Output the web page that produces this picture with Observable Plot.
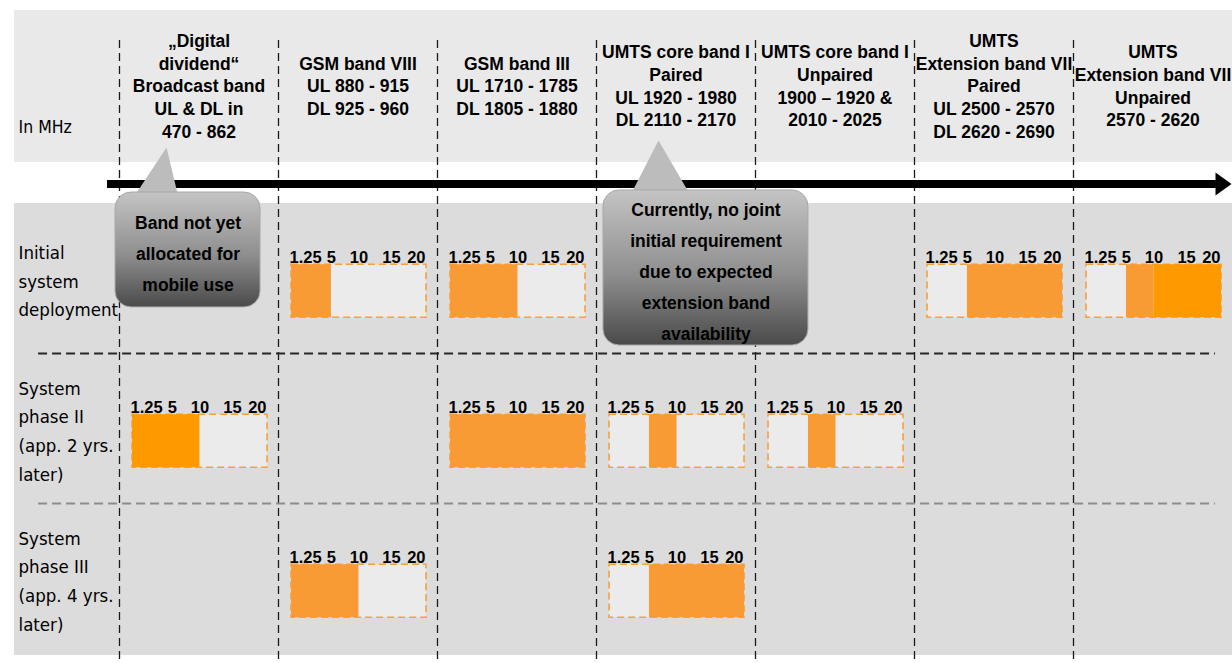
<!DOCTYPE html>
<html><head><meta charset="utf-8">
<script src="https://cdn.jsdelivr.net/npm/d3@7"></script>
<script src="https://cdn.jsdelivr.net/npm/@observablehq/plot@0.6"></script>
<style>
body{margin:0;background:#fff;}
#chart svg{display:block;}
</style></head><body><div id="chart"></div>
<script>
// ---------- data ----------
const bands = ["Digital dividend","GSM band VIII","GSM band III","UMTS core band I paired","UMTS core band I unpaired","UMTS extension band VII paired","UMTS extension band VII unpaired"];
const bandHeaders = [
  "„Digital\ndividend“\nBroadcast band\nUL & DL in\n470 - 862",
  "GSM band VIII\nUL 880 - 915\nDL 925 - 960",
  "GSM band III\nUL 1710 - 1785\nDL 1805 - 1880",
  "UMTS core band I\nPaired\nUL 1920 - 1980\nDL 2110 - 2170",
  "UMTS core band I\nUnpaired\n1900 – 1920 &\n2010 - 2025",
  "UMTS\nExtension band VII\nPaired\nUL 2500 - 2570\nDL 2620 - 2690",
  "UMTS\nExtension band VII\nUnpaired\n2570 - 2620"
];
const phases = ["Initial\nsystem\ndeployment", "System\nphase II\n(app. 2 yrs.\nlater)", "System\nphase III\n(app. 4 yrs.\nlater)"];
const unitLabel = "In MHz";
const carrierTicks = [1.25, 5, 10, 15, 20]; // MHz
// carrier bars (band index, phase index)
const barBand  = [1, 2, 5, 6, 0, 2, 3, 4, 1, 3];
const barPhase = [0, 0, 0, 0, 1, 1, 1, 1, 2, 2];
// occupied spectrum segments in MHz
const segBand  = [1, 2, 5, 6, 6, 0, 2, 3, 4, 1, 3];
const segPhase = [0, 0, 0, 0, 0, 1, 1, 1, 1, 2, 2];
const segFrom  = [0, 0, 5, 5, 10, 0, 0, 5, 5, 0, 5];
const segTo    = [5, 10, 20, 10, 20, 10, 20, 10, 10, 10, 20];
const segTone  = ["mid","mid","mid","mid","deep","deep","mid","mid","mid","mid","mid"];
// callouts
const calloutBand = [0, 3];
const calloutText = ["Band not yet\nallocated for\nmobile use",
  "Currently, no joint\ninitial requirement\ndue to expected\nextension band\navailability"];

// ---------- layout (grid units: 1 column, 1 phase row) ----------
const L = {
  left: -0.66, right: 7,
  headerTop: -1.2867, headerBottom: -0.2733, headerMid: -0.79,
  bodyBottom: 3.0133,
  gridTop: -1.087, gridBottom: 3.07,
  sepLeft: -0.509, sepRight: 6.893,
  arrowY: -0.13, arrowStart: -0.0755, headBase: 6.893, headTip: 6.994, headHalf: 0.077,
  barTop: 0.408, barBottom: 0.762, tickBase: 0.395,
  labelX: -0.635, unitY: -0.5067
};
const calloutBox = [
  {dx1: -0.025, dx2: 0.887, y1: -0.073, y2: 0.693, apex: 0.296, apexY: -0.373, b1: 0.09, b2: 0.37},
  {dx1: 0.044, dx2: 1.333, y1: -0.087, y2: 0.947, apex: 0.39, apexY: -0.42, b1: 0.214, b2: 0.59}
];
// position of a frequency inside a column (as drawn on the carrier bar)
const cs = Plot.scale({x: {type: "linear", domain: [0, 1.25, 5, 10, 15, 20], range: [0.082, 0.17, 0.333, 0.506, 0.711, 0.931]}});
const pos = (band, mhz) => band + cs.apply(mhz);

// ---------- tables ----------
const bars = barBand.map((b, i) => ({band: b, phase: barPhase[i]}));
const segs = segBand.map((b, i) => ({band: b, phase: segPhase[i], from: segFrom[i], to: segTo[i], tone: segTone[i]}));
const ticks = bars.flatMap(b => carrierTicks.map(t => ({...b, t})));
const lastTick = carrierTicks[carrierTicks.length - 1];
const callouts = calloutBand.map((b, i) => ({band: b, text: calloutText[i], ...calloutBox[i]}));
const pointers = callouts.flatMap((c, i) => [
  {id: i, x: c.band + c.b1, y: c.y1 + 0.03},
  {id: i, x: c.band + c.apex, y: c.apexY},
  {id: i, x: c.band + c.b2, y: c.y1 + 0.03}
]);
const head = [
  {x: L.headBase, y: L.arrowY - L.headHalf},
  {x: L.headTip, y: L.arrowY},
  {x: L.headBase, y: L.arrowY + L.headHalf}
];

const bold = "Liberation Sans, Arial, sans-serif";
const cond = "DejaVu Sans Condensed, Liberation Sans Narrow, sans-serif";

const chart = Plot.plot({
  width: 1232, height: 663,
  margin: 0,
  x: {type: "linear", domain: [-0.6855, 7], range: [10, 1232], axis: null},
  y: {type: "linear", domain: [-1.3533, 3.0667], range: [0, 663], axis: null},
  color: {domain: ["mid", "deep"], range: ["#f99b34", "#ff9900"]},
  style: {fontFamily: bold, background: "#fff", color: "#000"},
  marks: [
    Plot.rect([0], {x1: L.left, x2: L.right, y1: L.headerTop, y2: L.headerBottom, fill: "#e9e9e9"}),
    Plot.rect([0], {x1: L.left, x2: L.right, y1: 0, y2: L.bodyBottom, fill: "#dcdcdc"}),
    Plot.ruleX(d3.range(bands.length), {x: d => d, y1: L.gridTop, y2: L.gridBottom, stroke: "#1a1a1a", strokeWidth: 1.3, strokeDasharray: "8,5"}),
    Plot.ruleY([1], {x1: L.sepLeft, x2: L.sepRight, stroke: "#262626", strokeWidth: 2, strokeDasharray: "9,5"}),
    Plot.ruleY([2], {x1: L.sepLeft, x2: L.sepRight, stroke: "#8c8c8c", strokeWidth: 2, strokeDasharray: "9,5"}),
    Plot.ruleY([L.arrowY], {x1: L.arrowStart, x2: L.headBase + 0.01, stroke: "#000", strokeWidth: 8}),
    Plot.line(head, {x: "x", y: "y", fill: "#000", stroke: "none"}),
    // carrier bars
    Plot.rect(bars, {x1: d => pos(d.band, 0), x2: d => pos(d.band, lastTick), y1: d => d.phase + L.barTop, y2: d => d.phase + L.barBottom,
      fill: "#ebebeb", stroke: "#f7a03c", strokeWidth: 1.6, strokeDasharray: "7,4"}),
    Plot.rect(segs, {x1: d => pos(d.band, d.from), x2: d => pos(d.band, d.to), y1: d => d.phase + L.barTop, y2: d => d.phase + L.barBottom, fill: "tone"}),
    Plot.text(ticks.filter(d => d.t !== lastTick), {x: d => pos(d.band, d.t), y: d => d.phase + L.tickBase, text: d => String(d.t),
      lineAnchor: "bottom", fontSize: 16.5, fontWeight: "bold", fill: "#000"}),
    Plot.text(ticks.filter(d => d.t === lastTick), {x: d => pos(d.band, d.t), y: d => d.phase + L.tickBase, text: d => String(d.t),
      lineAnchor: "bottom", textAnchor: "end", dx: -1, fontSize: 16.5, fontWeight: "bold", fill: "#000"}),
    // headers and labels
    Plot.text(bandHeaders, {x: (d, i) => i + 0.5, y: L.headerMid, text: d => d, lineAnchor: "middle", lineHeight: 1.3,
      fontSize: 17.5, fontWeight: "bold", fill: "#000"}),
    Plot.text([unitLabel], {x: L.labelX, y: L.unitY, text: d => d, textAnchor: "start", fontSize: 17.5, fontFamily: cond, fill: "#000"}),
    Plot.text(phases, {x: L.labelX, y: (d, i) => i + 0.5, text: d => d, textAnchor: "start", lineAnchor: "middle", lineHeight: 1.55,
      fontSize: 18.5, fontFamily: cond, fill: "#000"}),
    // callouts
    Plot.line(pointers, {x: "x", y: "y", z: "id", fill: "#bcbcbc", stroke: "none"}),
    Plot.rect(callouts, {x1: d => d.band + d.dx1, x2: d => d.band + d.dx2, y1: "y1", y2: "y2", rx: 16,
      fill: "url(#calloutGrad)", stroke: "#a8a8a8", strokeWidth: 1}),
    Plot.text(callouts, {x: d => d.band + (d.dx1 + d.dx2) / 2, y: d => (d.y1 + d.y2) / 2, text: "text", lineAnchor: "middle",
      lineHeight: 1.77, fontSize: 17.5, fontWeight: "bold", fill: "#000"})
  ]
});

d3.select(chart).insert("defs", ":first-child").html(
  `<linearGradient id="calloutGrad" x1="0" y1="0" x2="0" y2="1">
     <stop offset="0%" stop-color="#c4c4c4"/>
     <stop offset="55%" stop-color="#8e8e8e"/>
     <stop offset="100%" stop-color="#4a4a4a"/>
   </linearGradient>`);
document.getElementById("chart").appendChild(chart);
</script>
</body></html>
